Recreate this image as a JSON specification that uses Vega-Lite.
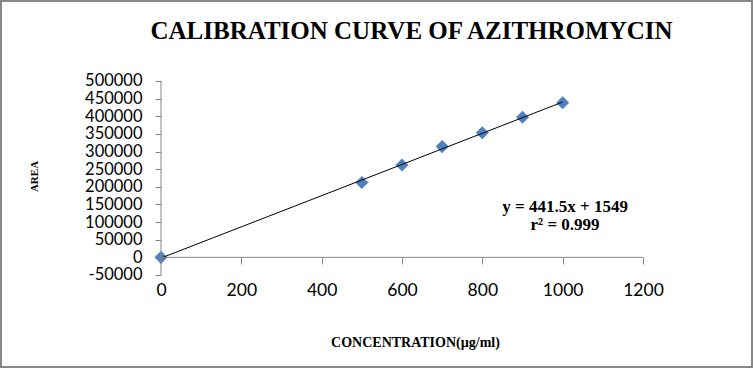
{
  "$schema": "https://vega.github.io/schema/vega-lite/v6.json",
  "width": 751,
  "height": 366,
  "padding": 1,
  "autosize": {"type": "none"},
  "background": "white",
  "config": {
    "view": {"stroke": "#878787", "strokeWidth": 2},
    "axis": {"labelOverlap": false, "labelFlush": false, "labelBound": false}
  },
  "title": {
    "text": "CALIBRATION CURVE OF AZITHROMYCIN",
    "font": "Liberation Serif",
    "fontSize": 25,
    "fontWeight": "bold",
    "color": "black",
    "anchor": "middle",
    "offset": 0,
    "baseline": "alphabetic",
    "dy": 63,
    "dx": 35
  },
  "datasets": {
    "points": [
      {"conc": 0, "area": 0},
      {"conc": 500, "area": 212000},
      {"conc": 600, "area": 262000},
      {"conc": 700, "area": 314000},
      {"conc": 800, "area": 353000},
      {"conc": 900, "area": 397000},
      {"conc": 1000, "area": 438500}
    ],
    "note": [{"label": "y = 441.5x + 1549\nr² = 0.999"}]
  },
  "layer": [
    {
      "data": {"name": "points"},
      "mark": {"type": "point", "shape": "diamond", "filled": true, "size": 170, "color": "#4F81BD", "opacity": 1},
      "encoding": {
        "x": {
          "field": "conc", "type": "quantitative",
          "scale": {"domain": [-398.34, 1471.37], "nice": false, "zero": false},
          "axis": {
            "title": "CONCENTRATION(µg/ml)",
            "values": [0, 200, 400, 600, 800, 1000, 1200],
            "tickCount": 30,
            "labelExpr": "datum.value < 0 ? '-' + abs(datum.value) : '' + datum.value",
            "orient": "bottom",
            "offset": -110,
            "domain": false,
            "grid": false,
            "ticks": true,
            "tickSize": 7,
            "tickColor": "#868686",
            "labelFont": "Lato",
            "labelFontSize": 17.5,
            "labelColor": "black",
            "labelPadding": 17,
            "labelOverlap": false,
            "labelFlush": false,
            "labelBound": false,
            "titleFont": "Liberation Serif",
            "titleFontSize": 14,
            "titleFontWeight": "bold",
            "titleColor": "black",
            "titleX": 414,
            "titleY": 85,
            "titleBaseline": "middle",
            "titleAlign": "center"
          }
        },
        "y": {
          "field": "area", "type": "quantitative",
          "scale": {"domain": [-310825, 726804], "nice": false, "zero": false},
          "axis": {
            "title": "AREA",
            "values": [-50000, 0, 50000, 100000, 150000, 200000, 250000, 300000, 350000, 400000, 450000, 500000],
            "tickCount": 30,
            "labelExpr": "datum.value < 0 ? '-' + abs(datum.value) : '' + datum.value",
            "orient": "left",
            "offset": -160,
            "domain": false,
            "grid": false,
            "ticks": true,
            "tickSize": 6,
            "tickColor": "#868686",
            "labelFont": "Lato",
            "labelFontSize": 16.5,
            "labelColor": "black",
            "labelPadding": 13,
            "labelOverlap": false,
            "labelFlush": false,
            "labelBound": false,
            "titleFont": "Liberation Serif",
            "titleFontSize": 11,
            "titleFontWeight": "bold",
            "titleColor": "black",
            "titleX": -127,
            "titleY": 175,
            "titleAngle": -90,
            "titleBaseline": "middle",
            "titleAlign": "center"
          }
        }
      }
    },
    {
      "data": {"name": "points"},
      "transform": [{"regression": "area", "on": "conc", "extent": [0, 1000]}],
      "mark": {"type": "line", "color": "black", "strokeWidth": 1},
      "encoding": {
        "x": {"field": "conc", "type": "quantitative", "scale": {"domain": [-398.34, 1471.37], "nice": false, "zero": false}},
        "y": {"field": "area", "type": "quantitative", "scale": {"domain": [-310825, 726804], "nice": false, "zero": false}}
      }
    },
    {
      "data": {"values": [{}]},
      "mark": {"type": "rule", "color": "#868686", "strokeWidth": 1},
      "encoding": {
        "x": {"datum": 0, "type": "quantitative", "scale": {"domain": [-398.34, 1471.37], "nice": false, "zero": false}},
        "x2": {"datum": 1200},
        "y": {"datum": 0, "type": "quantitative", "scale": {"domain": [-310825, 726804], "nice": false, "zero": false}}
      }
    },
    {
      "data": {"values": [{}]},
      "mark": {"type": "rule", "color": "#868686", "strokeWidth": 1},
      "encoding": {
        "x": {"datum": 0, "type": "quantitative", "scale": {"domain": [-398.34, 1471.37], "nice": false, "zero": false}},
        "y": {"datum": -50000, "type": "quantitative", "scale": {"domain": [-310825, 726804], "nice": false, "zero": false}},
        "y2": {"datum": 500000}
      }
    },
    {
      "data": {"name": "note"},
      "mark": {"type": "text", "font": "Liberation Serif", "fontSize": 17, "fontWeight": "bold", "color": "black", "align": "center", "baseline": "middle", "lineBreak": "\n", "lineHeight": 18},
      "encoding": {
        "x": {"datum": 1006, "type": "quantitative", "scale": {"domain": [-398.34, 1471.37], "nice": false, "zero": false}},
        "y": {"datum": 143000, "type": "quantitative", "scale": {"domain": [-310825, 726804], "nice": false, "zero": false}},
        "text": {"field": "label"}
      }
    }
  ]
}
